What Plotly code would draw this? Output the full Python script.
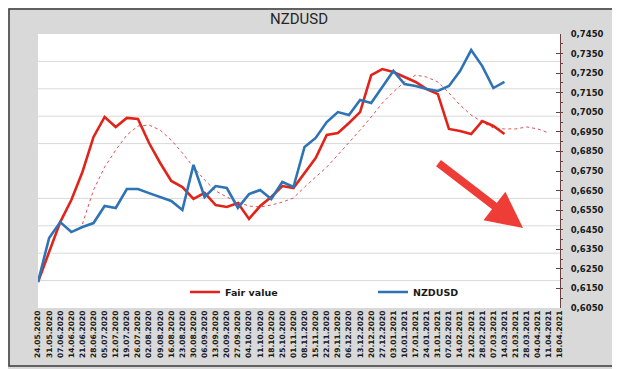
import plotly.graph_objects as go

dates = ["24.05.2020","31.05.2020","07.06.2020","14.06.2020","21.06.2020","28.06.2020",
         "05.07.2020","12.07.2020","19.07.2020","26.07.2020","02.08.2020","09.08.2020",
         "16.08.2020","23.08.2020","30.08.2020","06.09.2020","13.09.2020","20.09.2020",
         "27.09.2020","04.10.2020","11.10.2020","18.10.2020","25.10.2020","01.11.2020",
         "08.11.2020","15.11.2020","22.11.2020","29.11.2020","06.12.2020","13.12.2020",
         "20.12.2020","27.12.2020","03.01.2021","10.01.2021","17.01.2021","24.01.2021",
         "31.01.2021","07.02.2021","14.02.2021","21.02.2021","28.02.2021","07.03.2021",
         "14.03.2021","21.03.2021","28.03.2021","04.04.2021","11.04.2021","18.04.2021"]

fair_value = [0.6183, 0.6340, 0.6489, 0.6602, 0.6745, 0.6924, 0.7026, 0.6975, 0.7021, 0.7016,
              0.6893, 0.6791, 0.6699, 0.6668, 0.6607, 0.6638, 0.6576, 0.6566, 0.6586, 0.6505,
              0.6571, 0.6617, 0.6673, 0.6663, 0.6740, 0.6816, 0.6934, 0.6944, 0.6995, 0.7051,
              0.7240, 0.7271, 0.7256, 0.7230, 0.7205, 0.7169, 0.7143, 0.6965, 0.6954, 0.6939,
              0.7005, 0.6980, 0.6939]

nzdusd = [0.6183, 0.6408, 0.6489, 0.6438, 0.6464, 0.6484, 0.6571, 0.6561, 0.6658, 0.6658,
          0.6637, 0.6617, 0.6597, 0.6551, 0.6781, 0.6617, 0.6673, 0.6663, 0.6561, 0.6632,
          0.6653, 0.6607, 0.6694, 0.6668, 0.6873, 0.6919, 0.7000, 0.7051, 0.7036, 0.7113,
          0.7097, 0.7179, 0.7261, 0.7194, 0.7184, 0.7169, 0.7159, 0.7184, 0.7261, 0.7368,
          0.7286, 0.7174, 0.7205]

trend = [None, None, None, None,
         0.6479, 0.6653, 0.6770, 0.6857, 0.6934, 0.6980, 0.6985, 0.6959, 0.6908, 0.6842,
         0.6770, 0.6704, 0.6648, 0.6617, 0.6591, 0.6571, 0.6566, 0.6576, 0.6591, 0.6612,
         0.6668, 0.6719, 0.6770, 0.6832, 0.6893, 0.6959, 0.7026, 0.7097, 0.7154, 0.7205,
         0.7240, 0.7230, 0.7205, 0.7149, 0.7087, 0.7036, 0.7000, 0.6970, 0.6965, 0.6965,
         0.6975, 0.6965, 0.6944, None]

y_ticks = [0.6050, 0.6150, 0.6250, 0.6350, 0.6450, 0.6550, 0.6650, 0.6750,
           0.6850, 0.6950, 0.7050, 0.7150, 0.7250, 0.7350, 0.7450]

RED = "#e2231a"
BLUE = "#2e74b5"

fig = go.Figure()
fig.add_trace(go.Scatter(x=dates, y=trend, mode="lines", name="trend", showlegend=False,
                         connectgaps=False,
                         line=dict(color="#e05050", width=1, dash="dot")))
fig.add_trace(go.Scatter(x=dates[:len(fair_value)], y=fair_value, mode="lines", name="Fair value",
                         line=dict(color=RED, width=2.6)))
fig.add_trace(go.Scatter(x=dates[:len(nzdusd)], y=nzdusd, mode="lines", name="NZDUSD",
                         line=dict(color=BLUE, width=2.6)))

shapes = []
for k in [1, 2, 3, 4, 6, 7, 8, 9]:
    shapes.append(dict(type="line", xref="x domain", yref="y domain", x0=0, x1=1,
                       y0=k / 10, y1=k / 10, layer="below",
                       line=dict(color="#d9d9d9", width=1)))
# outer frame (page is offset by the 8px body margin)
shapes.append(dict(type="rect", xref="paper", yref="paper",
                   x0=(1 - 30) / 522, x1=(610 - 30) / 522, y0=(300 - 358) / 274, y1=(300 - 1) / 274,
                   line=dict(color="#3a3a3a", width=1.5), fillcolor="rgba(0,0,0,0)"))

fig.update_layout(
    width=620, height=369,
    margin=dict(l=30, r=68, t=26, b=69, autoexpand=False),
    paper_bgcolor="#d9d9d9",
    plot_bgcolor="#ffffff",
    separators=", ",
    title=dict(text="NZDUSD", x=0.5, xref="paper", xanchor="center",
               y=1 - 11 / 369, yanchor="middle",
               font=dict(family="Roboto", size=15, color="#262626")),
    shapes=shapes,
    showlegend=True,
    legend=dict(orientation="h", x=(185 - 38) / 522, xanchor="left",
                y=(308 - 292) / 274, yanchor="middle",
                bgcolor="rgba(0,0,0,0)", entrywidth=143, entrywidthmode="pixels",
                font=dict(family="DejaVu Sans", size=9.5, color="#1a1a1a", weight="bold")),
    xaxis=dict(type="category", range=[0, 47], showgrid=False, showline=False,
               ticks="", tickangle=-90, automargin=False,
               tickfont=dict(family="DejaVu Sans", size=7.5, color="#1a1a1a", weight="bold")),
    yaxis=dict(side="right", range=[0.605, 0.745], tickvals=y_ticks, tickformat=".4f",
               showgrid=False, showline=True, linecolor="#6b4040", linewidth=1,
               ticks="inside", ticklen=4, tickcolor="#6b4040", automargin=False,
               ticklabelstandoff=8,
               minor=dict(ticks="outside", ticklen=2, dtick=0.005, tick0=0.605,
                          tickcolor="#6b4040", showgrid=False),
               tickfont=dict(family="DejaVu Sans", size=8.5, color="#1a1a1a", weight="bold"),
               zeroline=False),
)

fig.add_annotation(x=(523 - 38) / 522, y=(308 - 228) / 274, xref="paper", yref="paper",
                   ax=-86, ay=-66, axref="pixel", ayref="pixel", text="",
                   showarrow=True, arrowhead=2, arrowsize=0.9, arrowwidth=8,
                   arrowcolor="#ee3d37")

fig.write_html("out.html")
